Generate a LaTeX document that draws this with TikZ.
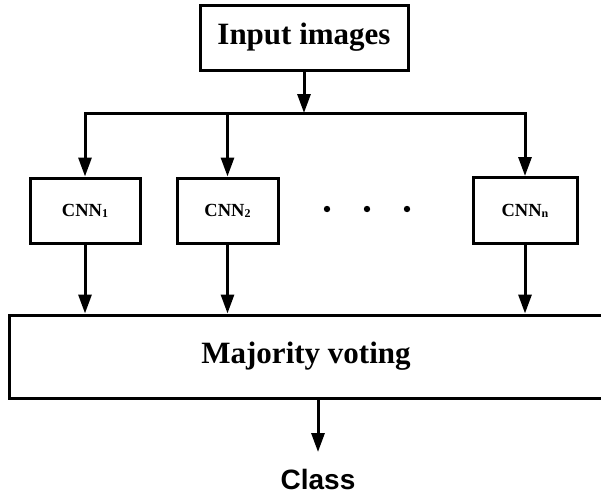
\documentclass[tikz,border=0pt]{standalone}
\usepackage{fontspec}
\setmainfont{Liberation Serif}
\newfontfamily\clsfont{Liberation Sans}
\usetikzlibrary{arrows.meta}
\begin{document}
\begin{tikzpicture}[x=1pt,y=-1pt,
  box/.style={draw=black,line width=3pt,fill=white,inner sep=0pt,anchor=center},
  arr/.style={line width=3pt,-{Triangle[length=19pt,width=13pt]}},
  bigtxt/.style={font=\fontsize{31}{36}\selectfont\bfseries},
  cnntxt/.style={font=\fontsize{18.5}{22}\selectfont\bfseries}]
\useasboundingbox (0,0) rectangle (601,493);
\newcommand{\sbs}[1]{{\fontsize{12}{12}\selectfont\raisebox{-1pt}{#1}}}
\node[box,bigtxt,minimum width=208pt,minimum height=65pt] (in) at (304,37.5) {Input images};
\coordinate (bus) at (304,113);
\node[box,cnntxt,minimum width=110pt,minimum height=65pt] (c1) at (85,210.5) {CNN\sbs{1}};
\node[box,cnntxt,minimum width=101pt,minimum height=65pt] (c2) at (227.5,210.5) {CNN\sbs{2}};
\node[box,cnntxt,minimum width=104pt,minimum height=66pt] (cn) at (525,210.5) {CNN\sbs{n}};
\node[box,bigtxt,minimum width=594pt,minimum height=83pt] (mv) at (306,356.5) {Majority voting};
\node[font=\clsfont\fontsize{28}{32}\selectfont\bfseries,inner sep=0pt] (cls) at (318,479) {Class};
\coordinate (clstip) at (318,452);
\foreach \x/\n in {327/d1,367/d2,407/d3} \fill (\x,209) circle (3.2pt) coordinate (\n);
\draw[arr] (in.south) -- (bus);
\draw[line width=3pt,line cap=rect] (c1.north |- bus) -- (cn.north |- bus);
\foreach \c in {c1,c2,cn} {
  \draw[arr] (\c.north |- bus) -- (\c.north);
  \draw[arr] (\c.south) -- (\c.south |- mv.north);
}
\draw[arr] (mv.south -| clstip) -- (clstip);
\end{tikzpicture}
\end{document}
